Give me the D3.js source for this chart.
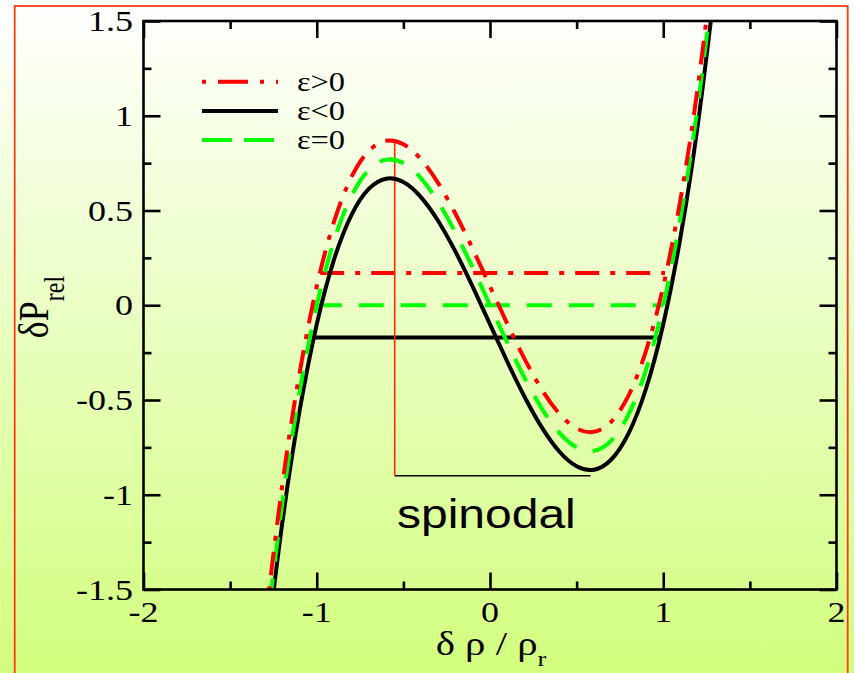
<!DOCTYPE html>
<html><head><meta charset="utf-8">
<script src="https://cdn.jsdelivr.net/npm/d3@7"></script>
<style>html,body{margin:0;padding:0;overflow:hidden;}svg{display:block;}</style>
</head><body>
<script>
// ---- data ----
const xs = [-1.3,-1.2,-1.1,-1.0,-0.9,-0.8,-0.7,-0.6,-0.5,-0.4,-0.3,-0.2,-0.1,0,0.1,0.2,0.3,0.4,0.5,0.6,0.7,0.8,0.9,1.0,1.1,1.2,1.3];
const epsPos  = [-1.694,-0.956,-0.362,0.1,0.442,0.676,0.814,0.868,0.85,0.772,0.646,0.484,0.298,0.1,-0.098,-0.284,-0.446,-0.572,-0.65,-0.668,-0.614,-0.476,-0.242,0.1,0.562,1.156,1.894];
const epsNeg  = [-1.894,-1.156,-0.562,-0.1,0.242,0.476,0.614,0.668,0.65,0.572,0.446,0.284,0.098,-0.1,-0.298,-0.484,-0.646,-0.772,-0.85,-0.868,-0.814,-0.676,-0.442,-0.1,0.362,0.956,1.694];
const epsZero = [-1.794,-1.056,-0.462,0,0.342,0.576,0.714,0.768,0.75,0.672,0.546,0.384,0.198,0,-0.198,-0.384,-0.546,-0.672,-0.75,-0.768,-0.714,-0.576,-0.342,0,0.462,1.056,1.794];
// horizontal tie lines [x1, x2, y]
const tiePos  = [-0.98, 1.01, 0.17];
const tieZero = [-1.0, 1.0, 0.0];
const tieNeg  = [-1.02, 0.98, -0.17];
// spinodal markers
const spinX = [-0.55, 0.58];
const spinY = [0.87, -0.9];
const legendLabels = ["ε>0","ε<0","ε=0"];
const xMajor = [-2,-1,0,1,2];
const xMinor = [-1.5,-0.5,0.5,1.5];
const yMajor = [-1.5,-1,-0.5,0,0.5,1,1.5];
const yMinor = [-1.25,-0.75,-0.25,0.25,0.75,1.25];
const xTickLabels = ["-2","-1","0","1","2"];
const yTickLabels = ["-1.5","-1","-0.5","0","0.5","1","1.5"];

// ---- layout ----
const W = 854, H = 673;
const L = 143.5, R = 836.5, T = 21, B = 589.5;
const SX = 1.2; // horizontal stretch of text
const svg = d3.select("body").append("svg").attr("width", W).attr("height", H);
const defs = svg.append("defs");
const grad = defs.append("linearGradient").attr("id","bg").attr("x1",0).attr("y1",0).attr("x2",0).attr("y2",1);
grad.append("stop").attr("offset","0%").attr("stop-color","#ffffff");
grad.append("stop").attr("offset","100%").attr("stop-color","#d2fe7e");
defs.append("clipPath").attr("id","clip").append("rect").attr("x",L).attr("y",T).attr("width",R-L).attr("height",B-T);

svg.append("rect").attr("width",W).attr("height",H).attr("fill","url(#bg)");
svg.append("rect").attr("x",14.7).attr("y",6).attr("width",833).attr("height",720)
  .attr("fill","none").attr("stroke","#ff3a14").attr("stroke-width",1.8);

const x = d3.scaleLinear().domain([-2,2]).range([L,R]);
const y = d3.scaleLinear().domain([-1.5,1.5]).range([B,T]);

// ---- ticks (inward, all four sides) ----
function ticks(axisFn, scale, vals, size, tr) {
  const g = svg.append("g").attr("transform", tr)
    .call(axisFn(scale).tickValues(vals).tickSizeInner(-size).tickSizeOuter(0).tickFormat(""));
  g.select(".domain").remove();
  g.selectAll("line").attr("stroke","#000").attr("stroke-width",2.6);
}
ticks(d3.axisBottom, x, xMajor, 17, `translate(0,${B})`);
ticks(d3.axisBottom, x, xMinor, 8, `translate(0,${B})`);
ticks(d3.axisTop, x, xMajor, 17, `translate(0,${T})`);
ticks(d3.axisTop, x, xMinor, 8, `translate(0,${T})`);
ticks(d3.axisLeft, y, yMajor, 17, `translate(${L},0)`);
ticks(d3.axisLeft, y, yMinor, 8, `translate(${L},0)`);
ticks(d3.axisRight, y, yMajor, 17, `translate(${R},0)`);
ticks(d3.axisRight, y, yMinor, 8, `translate(${R},0)`);

// tick labels
const serif = "'Liberation Serif','Times New Roman',serif";
svg.append("g").selectAll("text").data(xMajor).join("text")
  .attr("transform", d => `translate(${x(d)},622) scale(${SX},1)`)
  .attr("text-anchor","middle").attr("font-family",serif).attr("font-size",30)
  .text((d,i) => xTickLabels[i]);
svg.append("g").selectAll("text").data(yMajor).join("text")
  .attr("transform", d => `translate(133,${y(d)}) scale(${SX},1)`)
  .attr("text-anchor","end").attr("dy","0.34em").attr("font-family",serif).attr("font-size",30)
  .text((d,i) => yTickLabels[i]);

// axis titles
const xt = svg.append("text").attr("transform",`translate(491,655) scale(${SX},1)`)
  .attr("text-anchor","middle").attr("font-family",serif).attr("font-size",34);
xt.append("tspan").text("δ ρ / ρ");
xt.append("tspan").attr("font-size",22).attr("dy",11).text("r");

const yt = svg.append("text").attr("transform",`translate(48,307) scale(${SX},1) rotate(-90)`)
  .attr("text-anchor","middle").attr("font-family",serif).attr("font-size",36);
yt.append("tspan").text("δP");
yt.append("tspan").attr("font-size",24).attr("dy",13).text("rel");

// ---- plot content ----
const plot = svg.append("g").attr("clip-path","url(#clip)");
const straight = d3.line().x(d => x(d[0])).y(d => y(d[1]));
const smooth = d3.line().x(d => x(d[0])).y(d => y(d[1])).curve(d3.curveNatural);

const series = [
  {vals: epsZero, tie: tieZero, color:"#00ff00", dash:"25,17"},
  {vals: epsPos,  tie: tiePos,  color:"#ff0000", dash:"24,11,5,11"},
  {vals: epsNeg,  tie: tieNeg,  color:"#000000", dash:null}
];
// tie lines
series.forEach(s => {
  plot.append("path").attr("d", straight([[s.tie[0], s.tie[2]],[s.tie[1], s.tie[2]]]))
    .attr("fill","none").attr("stroke",s.color).attr("stroke-width",4)
    .attr("stroke-dasharray", s.dash);
});
// spinodal markers
plot.append("line").attr("x1",x(spinX[0])).attr("x2",x(spinX[1])).attr("y1",y(spinY[1])).attr("y2",y(spinY[1]))
  .attr("stroke","#000").attr("stroke-width",1.6);
plot.append("line").attr("x1",x(spinX[0])).attr("x2",x(spinX[0])).attr("y1",y(spinY[0])).attr("y2",y(spinY[1]))
  .attr("stroke","#ff2a00").attr("stroke-width",1.6);
// curves
[ {v:epsNeg,c:"#000000",d:null}, {v:epsZero,c:"#00ff00",d:"25,17"}, {v:epsPos,c:"#ff0000",d:"24,11,5,11"} ]
.forEach(s => {
  plot.append("path").attr("d", smooth(xs.map((xv,i)=>[xv, s.v[i]])))
    .attr("fill","none").attr("stroke",s.c).attr("stroke-width",4).attr("stroke-dasharray",s.d);
});

// frame
svg.append("rect").attr("x",L).attr("y",T).attr("width",R-L).attr("height",B-T)
  .attr("fill","none").attr("stroke","#000").attr("stroke-width",2.6);

// spinodal label
svg.append("text").attr("transform",`translate(397,528) scale(${SX},1)`)
  .attr("font-family","'Liberation Sans',Arial,sans-serif").attr("font-size",40).text("spinodal");

// legend
const legY = [81.7, 111, 140];
const legStyle = [{c:"#ff0000",d:"4,12,30,12"},{c:"#000000",d:null},{c:"#00ff00",d:"30,12"}];
legendLabels.forEach((lab,i) => {
  svg.append("line").attr("x1",202).attr("x2",278).attr("y1",legY[i]).attr("y2",legY[i])
    .attr("stroke",legStyle[i].c).attr("stroke-width",4).attr("stroke-dasharray",legStyle[i].d);
  svg.append("text").attr("transform",`translate(297,${legY[i]}) scale(${SX},1)`)
    .attr("dy","0.34em").attr("font-family",serif).attr("font-size",27).text(lab);
});
</script>
</body></html>
